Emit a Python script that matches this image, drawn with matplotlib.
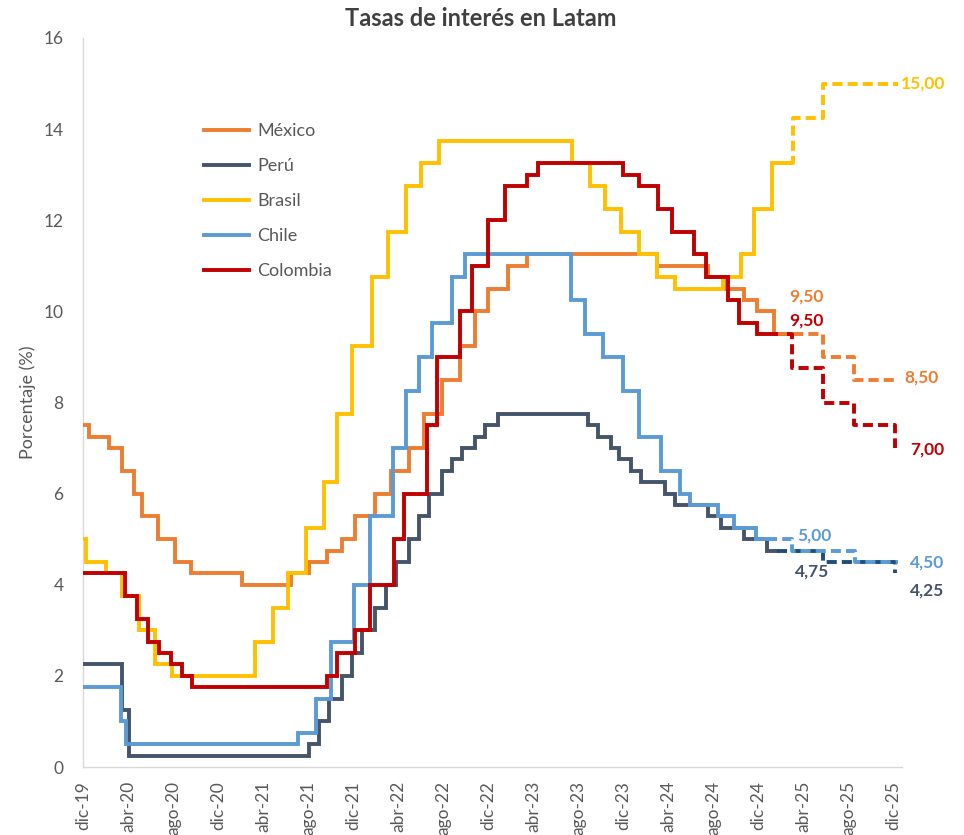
import matplotlib
matplotlib.use("Agg")
import matplotlib.pyplot as plt

plt.rcParams['font.family'] = ['Lato', 'DejaVu Sans']

# x positions: months elapsed since dic-19
tick_labels = ['dic-19', 'abr-20', 'ago-20', 'dic-20', 'abr-21', 'ago-21', 'dic-21',
               'abr-22', 'ago-22', 'dic-22', 'abr-23', 'ago-23', 'dic-23', 'abr-24',
               'ago-24', 'dic-24', 'abr-25', 'ago-25', 'dic-25']
tick_months = [0, 4, 8, 12, 16, 20, 24, 28, 32, 36, 40, 44, 48, 52, 56, 60, 64, 68, 72]

mexico_x = [0, 0.49, 2.28, 3.5, 4.52, 5.28, 6.63, 8.22, 9.57, 14.09, 18.48, 20.07, 21.65,
            23.0, 24.16, 25.94, 27.39, 28.98, 30.33, 31.91, 33.49, 34.85, 36.0, 37.78,
            39.47, 51.05, 55.57, 57.15, 58.74, 59.89, 61.45, 61.8]
mexico_y = [7.5, 7.25, 7.0, 6.5, 6.0, 5.5, 5.0, 4.5, 4.25, 4.0, 4.25, 4.5, 4.75, 5.0, 5.5,
            6.0, 6.5, 7.0, 7.75, 8.5, 9.25, 10.0, 10.5, 11.0, 11.25, 11.0, 10.75, 10.5,
            10.25, 10.0, 9.5, 9.5]
mexico_fx = [61.8, 65.8, 68.5, 72.4]
mexico_fy = [9.5, 9.0, 8.5, 8.5]

peru_x = [0, 3.46, 4.12, 20.07, 20.96, 21.88, 23.0, 23.93, 24.82, 25.94, 26.93, 27.82,
          28.98, 29.86, 30.79, 31.91, 32.8, 33.72, 34.85, 35.74, 36.9, 44.88, 45.8, 46.93,
          47.62, 48.74, 49.63, 51.71, 52.63, 55.57, 56.7, 58.74, 60.8, 61.7]
peru_y = [2.25, 1.25, 0.25, 0.5, 1.0, 1.5, 2.0, 2.5, 3.0, 3.5, 4.0, 4.5, 5.0, 5.5, 6.0,
          6.5, 6.75, 7.0, 7.25, 7.5, 7.75, 7.5, 7.25, 7.0, 6.75, 6.5, 6.25, 6.0, 5.75,
          5.5, 5.25, 5.0, 4.75, 4.75]
peru_fx = [61.7, 65.8, 72.2]
peru_fy = [4.75, 4.5, 4.25]

brasil_x = [0, 0.23, 2.0, 3.43, 5.02, 6.37, 7.95, 15.28, 16.86, 18.22, 19.8, 21.38, 22.54,
            23.89, 25.67, 27.13, 28.71, 30.07, 31.65, 43.49, 45.07, 46.43, 47.82, 49.4,
            51.01, 52.6, 56.89, 58.48, 59.63, 61.21, 62.8]
brasil_y = [5.0, 4.5, 4.25, 3.75, 3.0, 2.25, 2.0, 2.75, 3.5, 4.25, 5.25, 6.25, 7.75, 9.25,
            10.75, 11.75, 12.75, 13.25, 13.75, 13.25, 12.75, 12.25, 11.75, 11.25, 10.75,
            10.5, 10.75, 11.25, 12.25, 13.25, 13.25]
brasil_fx = [62.8, 63.1, 65.8, 72.4]
brasil_fy = [13.25, 14.25, 15.0, 15.0]

chile_x = [0, 3.37, 3.86, 19.14, 20.69, 22.08, 24.12, 25.47, 27.55, 28.71, 29.83, 31.02,
           32.77, 33.92, 43.36, 44.58, 46.26, 48.01, 49.4, 51.41, 53.09, 53.92, 56.4,
           57.85, 59.82, 60.8]
chile_y = [1.75, 1.0, 0.5, 0.75, 1.5, 2.75, 4.0, 5.5, 7.0, 8.25, 9.0, 9.75, 10.75, 11.25,
           10.25, 9.5, 9.0, 8.25, 7.25, 6.5, 6.0, 5.75, 5.5, 5.25, 5.0, 5.0]
chile_fx = [60.8, 63.0, 68.6, 72.4]
chile_fy = [5.0, 4.75, 4.5, 4.5]

colombia_x = [0, 3.73, 4.82, 5.77, 6.76, 7.82, 8.81, 9.73, 21.65, 22.6, 24.19, 25.54,
              27.62, 28.54, 30.56, 31.51, 33.53, 34.55, 36.04, 37.52, 39.5, 40.42, 47.98,
              49.4, 51.08, 52.37, 54.28, 55.34, 57.32, 58.31, 59.89, 62.6]
colombia_y = [4.25, 3.75, 3.25, 2.75, 2.5, 2.25, 2.0, 1.75, 2.0, 2.5, 3.0, 4.0, 5.0, 6.0,
              7.5, 9.0, 10.0, 11.0, 12.0, 12.75, 13.0, 13.25, 13.0, 12.75, 12.25, 11.75,
              11.25, 10.75, 10.25, 9.75, 9.5, 9.5]
colombia_fx = [62.6, 63.0, 65.8, 68.5, 72.2]
colombia_fy = [9.5, 8.75, 8.0, 7.5, 7.0]

# end labels: (text, x, y)
end_labels = [
    ('15,00', 72.7, 15.0, '#FFC000'),
    ('9,50', 62.8, 10.32, '#ED7D31'),
    ('9,50', 62.8, 9.79, '#C00000'),
    ('8,50', 73.0, 8.54, '#ED7D31'),
    ('7,00', 73.5, 6.96, '#C00000'),
    ('5,00', 63.5, 5.07, '#5B9BD5'),
    ('4,75', 63.3, 4.28, '#44546A'),
    ('4,50', 73.5, 4.48, '#5B9BD5'),
    ('4,25', 73.5, 3.88, '#44546A'),
]

series = [
    ('México', mexico_x, mexico_y, mexico_fx, mexico_fy, '#ED7D31', '#ED7D31'),
    ('Perú', peru_x, peru_y, peru_fx, peru_fy, '#44546A', '#1F4E79'),
    ('Brasil', brasil_x, brasil_y, brasil_fx, brasil_fy, '#FFC000', '#FFC000'),
    ('Chile', chile_x, chile_y, chile_fx, chile_fy, '#5B9BD5', '#5B9BD5'),
    ('Colombia', colombia_x, colombia_y, colombia_fx, colombia_fy, '#C00000', '#C00000'),
]

fig = plt.figure(figsize=(9.64, 8.35), dpi=100)
ax = fig.add_axes([83 / 964, 1 - 767 / 835, (902 - 83) / 964, (767 - 38) / 835])

lw = 2.8
handles = []
for name, x, y, fx, fy, c, fc in series:
    h, = ax.plot(x, y, drawstyle='steps-post', color=c, lw=lw, label=name,
                 solid_joinstyle='miter', zorder=3)
    handles.append(h)
for name, x, y, fx, fy, c, fc in series:
    ax.plot(fx, fy, drawstyle='steps-post', color=fc, lw=lw, dashes=(2.6, 1.3),
            dash_capstyle='butt', zorder=3)

for txt, x, y, c in end_labels:
    ax.text(x, y, txt, color=c, fontsize=12.5, fontweight='bold', ha='left',
            va='center', clip_on=False)

ax.set_xlim(0, (902 - 83) / 11.25)
ax.set_ylim(0, 16)
ax.set_yticks(range(0, 17, 2))
ax.set_xticks(tick_months)
ax.set_xticklabels(tick_labels, rotation=90)
ax.tick_params(axis='both', length=0, labelsize=12.5, colors='#595959')
ax.tick_params(axis='y', pad=14)
ax.tick_params(axis='x', pad=10)

for s in ['top', 'right']:
    ax.spines[s].set_visible(False)
for s in ['left', 'bottom']:
    ax.spines[s].set_color('#D9D9D9')
    ax.spines[s].set_linewidth(1.0)

ax.set_ylabel('Porcentaje (%)', fontsize=13, color='#595959')
ax.yaxis.set_label_coords((36 - 83) / 819, 0.5)

fig.text(481 / 964, 1 - 18 / 835, 'Tasas de interés en Latam', ha='center',
         va='center', fontsize=17, fontweight='bold', color='#404040')

leg = fig.legend(handles=handles, loc='upper left',
                 bbox_to_anchor=(204 / 964, 1 - 123 / 835), frameon=False,
                 fontsize=13, handlelength=2.5, handletextpad=0.45, labelspacing=1.05,
                 borderpad=0, borderaxespad=0)
for t in leg.get_texts():
    t.set_color('#595959')

fig.savefig('out.png', dpi=100)
